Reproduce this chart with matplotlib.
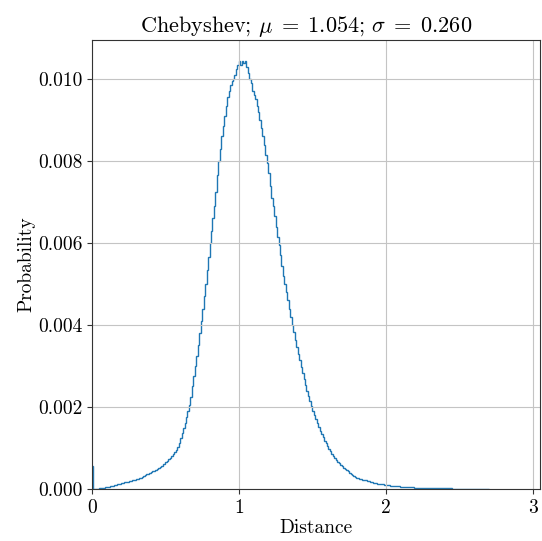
import numpy as np
import matplotlib
matplotlib.use("Agg")
import matplotlib.pyplot as plt

plt.rcParams['font.family'] = 'serif'
plt.rcParams['font.serif'] = ['cmr10']
plt.rcParams['mathtext.fontset'] = 'cm'
plt.rcParams['axes.formatter.use_mathtext'] = True

# Histogram heights (units of 1e-3), bin width 0.01 starting at 0
rise = [0.56, 0.0, 0.0, 0.005, 0.01, 0.015, 0.02, 0.025, 0.03, 0.04,
        0.05, 0.055, 0.065, 0.07, 0.08, 0.09, 0.10, 0.11, 0.12, 0.13,
        0.14, 0.15, 0.16, 0.17, 0.18, 0.19, 0.20, 0.21, 0.22, 0.23,
        0.24, 0.25, 0.26, 0.27, 0.29, 0.31, 0.33, 0.37, 0.36, 0.39,
        0.41, 0.43, 0.45, 0.47, 0.49, 0.52, 0.54, 0.57, 0.60, 0.62,
        0.65, 0.69, 0.72, 0.76, 0.80, 0.85, 0.90, 0.96, 1.02, 1.12]
climb = [1.24, 1.37, 1.48, 1.60, 1.75, 1.90, 2.05, 2.25, 2.50, 2.75,
         3.00, 3.25, 3.50, 3.80, 4.10, 4.40, 4.70, 5.00, 5.35, 5.65,
         6.00, 6.30, 6.60, 6.90, 7.25, 7.65, 8.00, 8.30, 8.60, 8.85,
         9.10, 9.35, 9.55, 9.70, 9.85, 9.95, 10.00, 10.10, 10.25, 10.35]
fall = [10.45, 10.35, 10.45, 10.40, 10.45, 10.30, 10.15, 10.00, 9.90, 9.70,
        9.60, 9.50, 9.35, 9.20, 9.00, 8.80, 8.60, 8.40, 8.15, 7.95,
        7.70, 7.40, 7.10, 6.90, 6.65, 6.40, 6.15, 5.95, 5.70, 5.45,
        5.20, 5.00, 4.80, 4.60, 4.40, 4.20, 4.00, 3.82, 3.64, 3.47,
        3.30, 3.14, 2.98, 2.83, 2.68, 2.54, 2.40, 2.27, 2.14, 2.02,
        1.91, 1.80, 1.70, 1.60, 1.51, 1.42, 1.34, 1.26, 1.18, 1.11]
tail = [1.04, 0.98, 0.92, 0.86, 0.80, 0.75, 0.71, 0.67, 0.63, 0.59,
        0.55, 0.52, 0.49, 0.46, 0.43, 0.40, 0.37, 0.34, 0.31, 0.29,
        0.27, 0.26, 0.25, 0.24, 0.23, 0.22, 0.21, 0.20, 0.19, 0.17,
        0.16, 0.15, 0.14, 0.135, 0.13, 0.125, 0.12, 0.115, 0.11, 0.105,
        0.10, 0.095, 0.09, 0.085, 0.08, 0.075, 0.072, 0.07, 0.066, 0.062,
        0.06, 0.057, 0.054, 0.052, 0.05, 0.047, 0.044, 0.04, 0.037, 0.034]
far_tail = [0.03, 0.03, 0.028, 0.027, 0.025, 0.024, 0.023, 0.022, 0.021, 0.02,
            0.02, 0.019, 0.018, 0.018, 0.017, 0.017, 0.016, 0.016, 0.015, 0.015,
            0.015, 0.014, 0.014, 0.013, 0.013, 0.012, 0.012, 0.011, 0.011, 0.01,
            0.01, 0.009, 0.009, 0.009, 0.008, 0.008, 0.008, 0.007, 0.007, 0.006,
            0.006, 0.006, 0.005, 0.005, 0.005, 0.004, 0.004, 0.003, 0.003, 0.002]

bin_width = 0.01
heights = np.array(rise + climb + fall + tail + far_tail) * 1e-3
edges = np.arange(len(heights) + 1) * bin_width

xticks = [0, 1, 2, 3]
yticks = [0.000, 0.002, 0.004, 0.006, 0.008, 0.010]
title = r"Chebyshev; $\mu\;=\;1.054$; $\sigma\;=\;0.260$"

fig = plt.figure(figsize=(5.42, 5.41), dpi=100)
ax = fig.add_axes([92/542, 52/541, 448/542, 449/541])
ax.stairs(heights, edges, color='#1f77b4', linewidth=1.0)
ax.set_xlim(0, 3.05)
ax.set_ylim(0, 0.01095)
ax.set_xticks(xticks)
ax.set_xticklabels([str(t) for t in xticks])
ax.set_yticks(yticks)
ax.set_yticklabels([f"{t:.3f}" for t in yticks])
ax.grid(True, color='#c4c4c4', linewidth=0.8)
for s in ax.spines.values():
    s.set_color('#333333')
ax.tick_params(labelsize=14, color='#333333')
ax.set_xlabel("Distance", fontsize=14, labelpad=2)
ax.set_ylabel("Probability", fontsize=14, labelpad=2)
ax.set_title(title, fontsize=16, x=0.478)
fig.savefig("out.png", dpi=100)
